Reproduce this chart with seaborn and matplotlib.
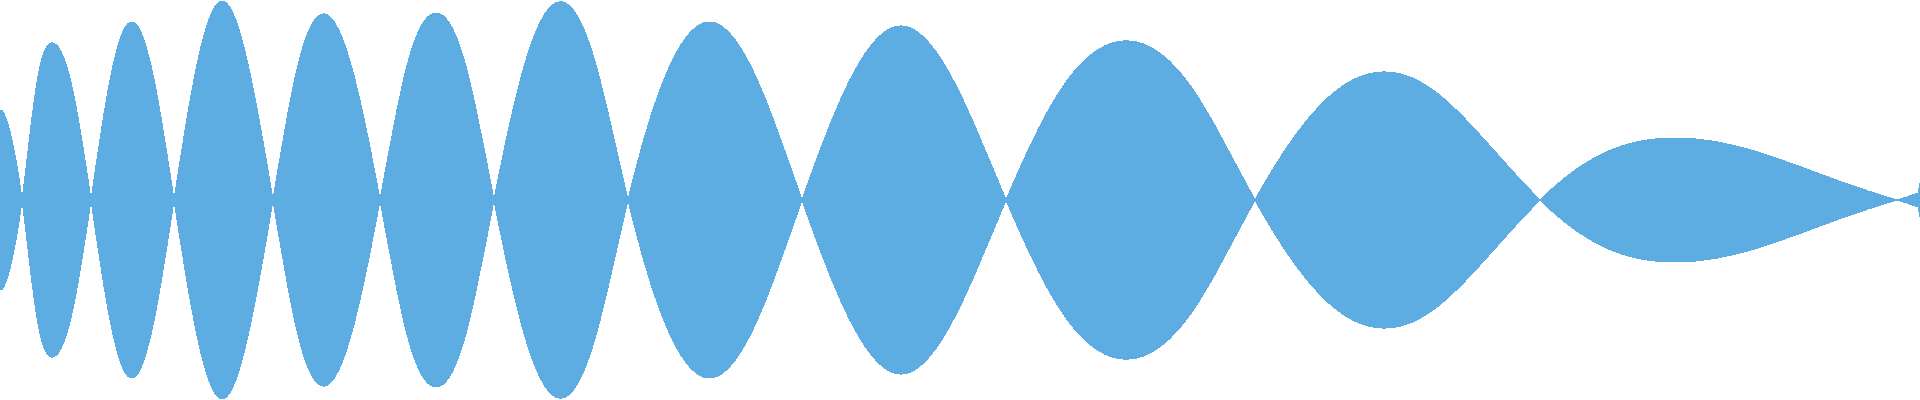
import numpy as np
import matplotlib
matplotlib.use("Agg")
import matplotlib.pyplot as plt
from matplotlib.path import Path
from matplotlib.patches import PathPatch
import seaborn as sns

# positions along the track and the signed level read at each point
# (lobes alternate sign, zeros are the pinch points)
t = [0, 11, 22,
     37, 53, 72, 91,
     111, 132, 153, 174,
     198, 222, 247, 273,
     298, 323, 351, 380,
     408, 436, 465, 494,
     526, 559, 593, 628,
     668, 709, 755, 802,
     851, 900, 953, 1006,
     1064, 1123, 1189, 1255,
     1290, 1340, 1386, 1430, 1480, 1540,
     1600, 1672, 1740, 1820, 1897,
     1907, 1918, 1920]
level = [90, 64, 0,
         -118, -157, -113, 0,
         125, 178, 125, 0,
         -140, -199, -140, 0,
         135, 186, 135, 0,
         -138, -187, -137, 0,
         140, 198, 145, 0,
         -130, -178, -125, 0,
         122, 174, 120, 0,
         -115, -159, -116, 0,
         57, 112, 128, 112, 65, 0,
         -45, -62, -53, -26, 0,
         3, 7, 17]

fill_color = "#5DACE2"


def spline_slopes(x, y):
    # cubic spline slopes, flat at the first crest, natural at the far end
    n = len(x)
    h = np.diff(x)
    d = np.diff(y) / h
    A = np.zeros((n, n))
    b = np.zeros(n)
    A[0, 0] = 1
    A[-1, -2], A[-1, -1], b[-1] = 1, 2, 3 * d[-1]
    for i in range(1, n - 1):
        A[i, i - 1] = h[i]
        A[i, i] = 2 * (h[i - 1] + h[i])
        A[i, i + 1] = h[i - 1]
        b[i] = 3 * (h[i] * d[i - 1] + h[i - 1] * d[i])
    return np.linalg.solve(A, b)


def upper_edge(x, y):
    # smooth bezier through all points but the last, which is a straight step
    x = np.asarray(x, float)
    y = np.asarray(y, float)
    m = spline_slopes(x[:-1], y[:-1])
    verts = [(x[0], y[0])]
    codes = [Path.MOVETO]
    for i in range(len(x) - 2):
        h = x[i + 1] - x[i]
        verts += [(x[i] + h / 3, y[i] + m[i] * h / 3),
                  (x[i + 1] - h / 3, y[i + 1] - m[i + 1] * h / 3),
                  (x[i + 1], y[i + 1])]
        codes += [Path.CURVE4] * 3
    verts.append((x[-1], y[-1]))
    codes.append(Path.LINETO)
    return verts, codes


sns.set_style("white")
fig = plt.figure(figsize=(19.2, 4), dpi=100)
ax = fig.add_axes([0, 0, 1, 1])

top_v, top_c = upper_edge(t, level)
bot_v = [(px, -py) for px, py in top_v[::-1]]
bot_c = [Path.LINETO] + top_c[1:][::-1]
verts = top_v + bot_v + [top_v[0]]
codes = top_c + bot_c + [Path.CLOSEPOLY]

ax.add_patch(PathPatch(Path(verts, codes), facecolor=fill_color,
                       edgecolor="none", antialiased=False))

ax.set_xlim(0, 1920)
ax.set_ylim(-200, 200)
ax.set_axis_off()
sns.despine(ax=ax, left=True, bottom=True)

fig.savefig("out.png", dpi=100, facecolor="white")
